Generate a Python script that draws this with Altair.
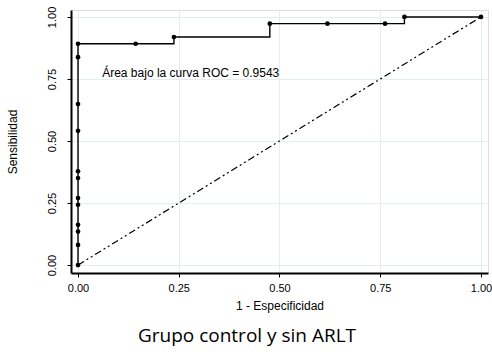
import altair as alt
import pandas as pd

# ROC points (1 - specificity, sensitivity)
fpr = [0.0, 0.0, 0.0, 0.0, 0.0, 0.0, 0.0, 0.0, 0.0, 0.0, 0.0, 0.0,
       0.143, 0.238, 0.476, 0.619, 0.762, 0.810, 1.0]
sens = [0.0, 0.081, 0.135, 0.162, 0.243, 0.270, 0.351, 0.378, 0.541, 0.649, 0.838, 0.892,
        0.892, 0.919, 0.973, 0.973, 0.973, 1.0, 1.0]
diag_x = [0.0, 1.0]
diag_y = [0.0, 1.0]
ticks = [0.0, 0.25, 0.5, 0.75, 1.0]
annot = "Área bajo la curva ROC = 0.9543"
title_text = "Grupo control y sin ARLT"

roc = pd.DataFrame({"x": fpr, "y": sens, "o": list(range(len(fpr)))})
diag = pd.DataFrame({"x": diag_x, "y": diag_y})

xs = alt.Scale(domain=[-0.0174, 1.0174], nice=False, zero=False)
ys = alt.Scale(domain=[-0.032, 1.028], nice=False, zero=False)

xax = alt.Axis(values=ticks, format=".2f", title="1 - Especificidad", grid=True,
               gridColor="#e4edf0", domainColor="black", domainWidth=2,
               tickColor="black", tickSize=4, labelFont="Liberation Sans",
               labelFontSize=11, labelColor="black", labelPadding=5,
               titleFont="Liberation Sans", titleFontSize=12, titleFontWeight="normal",
               titleColor="black", titlePadding=7)
yax = alt.Axis(values=ticks, format=".2f", title="Sensibilidad", grid=True,
               gridColor="#e4edf0", domainColor="black", domainWidth=2,
               tickColor="black", tickSize=4, labelFont="Liberation Sans",
               labelFontSize=11, labelColor="black", labelAngle=270, labelPadding=10,
               labelAlign="center", labelBaseline="bottom",
               titleFont="Liberation Sans", titleFontSize=12, titleFontWeight="normal",
               titleColor="black", titlePadding=27)

diag_line = alt.Chart(diag).mark_line(color="black", strokeWidth=1.2,
                                      strokeDash=[7, 3, 2, 3, 2, 3]).encode(
    x=alt.X("x:Q", scale=xs, axis=xax),
    y=alt.Y("y:Q", scale=ys, axis=yax),
)

roc_line = alt.Chart(roc).mark_line(color="black", strokeWidth=1.4,
                                    interpolate="step-after").encode(
    x=alt.X("x:Q", scale=xs), y=alt.Y("y:Q", scale=ys), order="o:Q")

roc_pts = alt.Chart(roc).mark_circle(color="black", size=22, opacity=1).encode(
    x=alt.X("x:Q", scale=xs), y=alt.Y("y:Q", scale=ys))

txt = alt.Chart(pd.DataFrame({"x": [0.06], "y": [0.774], "t": [annot]})).mark_text(
    align="left", baseline="middle", font="Liberation Sans", fontSize=12, color="black").encode(
    x=alt.X("x:Q", scale=xs), y=alt.Y("y:Q", scale=ys), text="t:N")

bottom_title = alt.Chart(pd.DataFrame({"t": [title_text]})).mark_text(
    align="center", baseline="alphabetic", font="Open Sans", fontSize=19,
    color="black").encode(x=alt.value(176), y=alt.value(332), text="t:N")

chart = alt.layer(diag_line, roc_line, roc_pts, txt, bottom_title).properties(
    width=417, height=263,
    autosize=alt.AutoSizeParams(type="none"),
    padding={"left": 71, "top": 10, "right": 4, "bottom": 79},
).configure_view(stroke=None).configure(background="white")

chart.save("out.html", embed_options={"renderer": "svg", "actions": False})
